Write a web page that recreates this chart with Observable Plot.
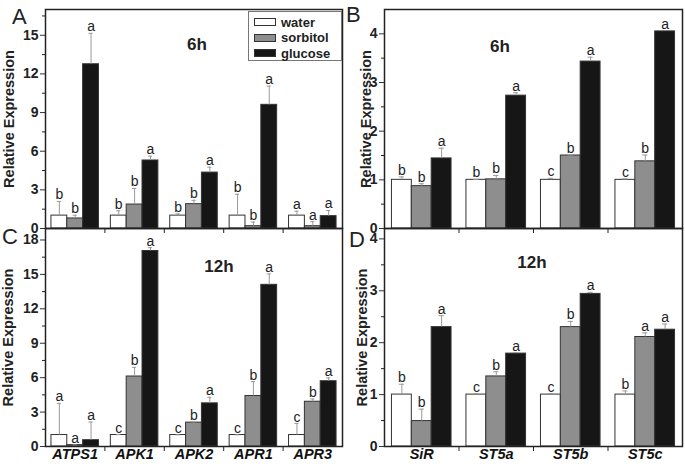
<!DOCTYPE html>
<html><head><meta charset="utf-8">
<script src="https://cdn.jsdelivr.net/npm/d3@7"></script>
<script src="https://cdn.jsdelivr.net/npm/@observablehq/plot@0.6"></script>
<style>
body{margin:0;background:#fff;}
#root{position:relative;width:685px;height:469px;font-family:"Liberation Sans",Arial,sans-serif;color:#222;overflow:hidden;}
.panel{position:absolute;}
.panel svg{overflow:visible;background:transparent;}
.abs{position:absolute;white-space:nowrap;line-height:1;}
.letter{font-size:22px;font-weight:normal;}
.title{font-size:17px;font-weight:bold;transform:translateX(-50%);}
#legend{position:absolute;left:248px;top:11px;width:92px;height:48px;border:1px solid #777;background:#fff;font-weight:bold;font-size:13px;}
#legend .row{position:absolute;left:5px;height:14px;display:flex;align-items:center;}
#legend .sw{width:20px;height:6px;border:1px solid #333;margin-right:5px;}
</style></head><body><div id="root"></div>
<script>
// ---------- data ----------
const treatments = ["water", "sorbitol", "glucose"];
const treatmentColors = ["#ffffff", "#8e8e8e", "#161616"];

const genesLeft = ["ATPS1", "APK1", "APK2", "APR1", "APR3"];
const genesRight = ["SiR", "ST5a", "ST5b", "ST5c"];

// Panel A: 6h, left genes
const a6Water = [1.0, 1.0, 1.0, 1.0, 1.0];
const a6WaterErr = [1.1, 0.38, 0.14, 1.66, 0.34];
const a6Sorbitol = [0.78, 1.86, 1.89, 0.18, 0.18];
const a6SorbitolErr = [0.25, 1.25, 0.3, 0.32, 0.35];
const a6Glucose = [12.75, 5.28, 4.34, 9.6, 0.96];
const a6GlucoseErr = [2.4, 0.33, 0.42, 1.45, 0.44];
const a6Letters = [["b","b","a"],["b","b","a"],["b","b","a"],["b","b","a"],["a","a","a"]];

// Panel B: 6h, right genes
const b6Water = [1.0, 1.0, 1.0, 1.0];
const b6WaterErr = [0.06, 0.01, 0.03, 0.02];
const b6Sorbitol = [0.87, 1.01, 1.5, 1.38];
const b6SorbitolErr = [0.05, 0.08, 0.01, 0.13];
const b6Glucose = [1.44, 2.73, 3.43, 4.05];
const b6GlucoseErr = [0.21, 0.06, 0.09, 0.0];
const b6Letters = [["b","b","a"],["b","b","a"],["c","b","a"],["c","b","a"]];

// Panel C: 12h, left genes
const c12Water = [1.0, 1.0, 1.0, 1.0, 1.0];
const c12WaterErr = [2.76, 0.04, 0.02, 0.02, 1.0];
const c12Sorbitol = [0.12, 6.1, 2.08, 4.4, 3.9];
const c12SorbitolErr = [0.02, 0.8, 0.06, 1.26, 0.24];
const c12Glucose = [0.55, 17.04, 3.76, 14.09, 5.69];
const c12GlucoseErr = [1.58, 0.29, 0.53, 0.95, 0.29];
const c12Letters = [["a","a","a"],["c","b","a"],["c","b","a"],["c","b","a"],["c","b","a"]];

// Panel D: 12h, right genes
const d12Water = [1.0, 1.0, 1.0, 1.0];
const d12WaterErr = [0.2, 0.02, 0.02, 0.07];
const d12Sorbitol = [0.49, 1.35, 2.3, 2.11];
const d12SorbitolErr = [0.23, 0.09, 0.11, 0.08];
const d12Glucose = [2.3, 1.79, 2.94, 2.25];
const d12GlucoseErr = [0.22, 0.02, 0.03, 0.11];
const d12Letters = [["b","b","a"],["c","b","a"],["c","b","a"],["b","a","a"]];

// axis ticks
const aTicks = [0, 3, 6, 9, 12, 15];
const aMinor = [1.5, 4.5, 7.5, 10.5, 13.5, 16.5];
const cTicks = [0, 3, 6, 9, 12, 15, 18];
const cMinor = [1.5, 4.5, 7.5, 10.5, 13.5, 16.5];
const bdTicks = [0, 1, 2, 3, 4];
const bdMinor = [0.5, 1.5, 2.5, 3.5];

// ---------- drawing ----------
const FONT = '"Liberation Sans", Arial, sans-serif';
const root = document.getElementById("root");

function makeRows(genes, vals, errs, letters) {
  const rows = [];
  const w = 0.8 / 3;
  genes.forEach((g, gi) => {
    treatments.forEach((t, ti) => {
      const c = gi + (ti - 1) * w;
      rows.push({gene: g, treatment: t, ti, c, x1: c - w / 2, x2: c + w / 2,
        value: vals[ti][gi], top: vals[ti][gi] + errs[ti][gi], letter: letters[gi][ti]});
    });
  });
  return rows;
}

function panel(o) {
  const n = o.genes.length;
  const rows = makeRows(o.genes, o.vals, o.errs, o.letters);
  const idx = o.genes.map((g, i) => i);
  const bounds = idx.slice(1).map(i => i - 0.5);
  const marks = [
    Plot.rectY(rows, {x1: "x1", x2: "x2", y1: 0, y2: "value",
      fill: d => treatmentColors[d.ti], stroke: "#333", strokeWidth: 1}),
    Plot.ruleX(rows, {x: "c", y1: "value", y2: "top", stroke: "#9a9a9a", strokeWidth: 1}),
    Plot.ruleY(rows.filter(d => d.top > d.value), {y: "top", x1: d => d.c - 0.035, x2: d => d.c + 0.035, stroke: "#9a9a9a", strokeWidth: 1}),
    Plot.text(rows, {x: "c", y: "top", text: "letter", lineAnchor: "bottom", dy: -2,
      fontSize: 14, fontWeight: "normal", fill: "#222"}),
    Plot.axisY({ticks: o.ticks, tickSize: 5, tickPadding: 2, tickFormat: d => String(d), fontSize: 14, fontWeight: "bold", label: null, stroke: "#333"}),
    Plot.axisY({ticks: o.minor, tickSize: 3, tickFormat: () => "", label: null}),
    Plot.axisX({ticks: bounds, tickSize: 5, tickFormat: () => "", label: null}),
    Plot.text(["Relative Expression"], {frameAnchor: "left", textAnchor: "middle", lineAnchor: "middle", rotate: -90, dx: o.labelDx,
      fontSize: 14.5, fontWeight: "bold", fill: "#222"}),
    Plot.frame({stroke: "#222", strokeWidth: 1.5})
  ];
  if (o.showX) {
    marks.push(Plot.text(o.genes, {x: (d, i) => i, frameAnchor: "bottom", dy: 12,
      fontSize: 14.5, fontWeight: "bold", fontStyle: "italic", fill: "#111"}));
  }
  const svg = Plot.plot({
    width: o.width, height: o.height,
    marginLeft: 45, marginRight: 3, marginTop: o.mt, marginBottom: o.mb,
    style: {fontFamily: FONT, background: "transparent", color: "#222", overflow: "visible"},
    x: {type: "linear", domain: [-0.5, n - 0.5], axis: null},
    y: {domain: [0, o.yMax], axis: null},
    marks
  });
  const div = document.createElement("div");
  div.className = "panel";
  div.style.left = o.left + "px";
  div.style.top = o.top + "px";
  div.appendChild(svg);
  root.appendChild(div);
}

panel({genes: genesLeft, vals: [a6Water, a6Sorbitol, a6Glucose], errs: [a6WaterErr, a6SorbitolErr, a6GlucoseErr],
  letters: a6Letters, ticks: aTicks, minor: aMinor, yMax: 17, left: 0, top: 0, width: 345, height: 240, mt: 9, mb: 12, labelDx: -36, showX: false});
panel({genes: genesRight, vals: [b6Water, b6Sorbitol, b6Glucose], errs: [b6WaterErr, b6SorbitolErr, b6GlucoseErr],
  letters: b6Letters, ticks: bdTicks, minor: bdMinor, yMax: 4.5, left: 339, top: 0, width: 346, height: 240, mt: 9, mb: 12, labelDx: -18, showX: false});
panel({genes: genesLeft, vals: [c12Water, c12Sorbitol, c12Glucose], errs: [c12WaterErr, c12SorbitolErr, c12GlucoseErr],
  letters: c12Letters, ticks: cTicks, minor: cMinor, yMax: 19, left: 0, top: 218, width: 345, height: 251, mt: 10, mb: 23, labelDx: -37, showX: true});
panel({genes: genesRight, vals: [d12Water, d12Sorbitol, d12Glucose], errs: [d12WaterErr, d12SorbitolErr, d12GlucoseErr],
  letters: d12Letters, ticks: bdTicks, minor: bdMinor, yMax: 4.2, left: 339, top: 218, width: 346, height: 251, mt: 10, mb: 23, labelDx: -22, showX: true});

// panel letters and titles
function addText(txt, cls, left, top) {
  const d = document.createElement("div");
  d.className = "abs " + cls;
  d.textContent = txt;
  d.style.left = left + "px";
  d.style.top = top + "px";
  root.appendChild(d);
}
addText("A", "letter", 12, 6);
addText("B", "letter", 346, 4);
addText("C", "letter", 2, 226);
addText("D", "letter", 349, 229);
addText("6h", "title", 197, 36);
addText("6h", "title", 500, 38);
addText("12h", "title", 219, 258);
addText("12h", "title", 532, 254);

// legend
const legend = document.createElement("div");
legend.id = "legend";
treatments.forEach((t, i) => {
  const row = document.createElement("div");
  row.className = "row";
  row.style.top = (3 + i * 15.5) + "px";
  const sw = document.createElement("span");
  sw.className = "sw";
  sw.style.background = treatmentColors[i];
  const lab = document.createElement("span");
  lab.textContent = t;
  row.appendChild(sw);
  row.appendChild(lab);
  legend.appendChild(row);
});
root.appendChild(legend);
</script>
</body></html>
